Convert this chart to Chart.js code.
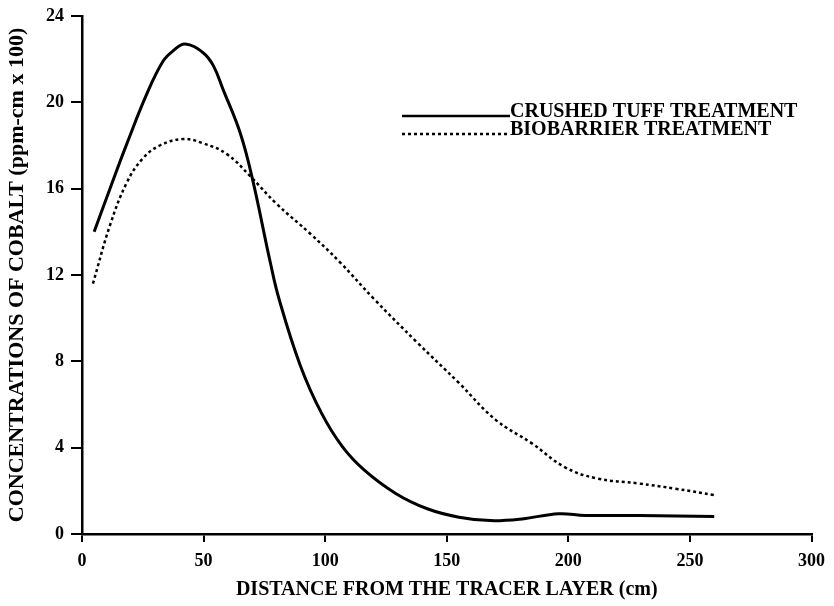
<!DOCTYPE html>
<html>
<head>
<meta charset="utf-8">
<script src="https://cdn.jsdelivr.net/npm/chart.js@4.4.1/dist/chart.umd.min.js"></script>
<style>
  html, body { margin: 0; padding: 0; background: #fff; }
  #wrap { width: 834px; height: 606px; }
</style>
</head>
<body>
<div id="wrap"><canvas id="cobaltChart" width="834" height="606"></canvas></div>
<script>
// Distance (cm) and concentration (ppm-cm x 100)
const tuffX = [5, 11.5, 18.5, 26.7, 33.3, 37.6, 42.4, 49.8, 54, 58, 65, 70, 77.4, 81, 89.8, 98.5, 107, 116, 129, 142, 155, 168, 181, 196, 207, 229, 260];
const tuffY = [14.0, 16.0, 18.1, 20.4, 21.9, 22.4, 22.7, 22.3, 21.7, 20.6, 18.6, 16.5, 12.6, 10.9, 7.8, 5.6, 4.06, 2.97, 1.88, 1.17, 0.78, 0.62, 0.7, 0.94, 0.86, 0.86, 0.81];

const bioX = [4.5, 11.5, 18.5, 25, 32, 41.5, 49.8, 59.6, 69, 80, 94, 106, 120, 137.6, 155, 170, 185, 198.5, 211.5, 229, 244, 260];
const bioY = [11.6, 14.3, 16.3, 17.4, 18.0, 18.3, 18.1, 17.6, 16.6, 15.3, 13.9, 12.6, 10.9, 8.9, 7.0, 5.3, 4.2, 3.1, 2.58, 2.34, 2.1, 1.8];

const legendLabels = ['CRUSHED TUFF TREATMENT', 'BIOBARRIER TREATMENT'];
const xTitle = 'DISTANCE FROM THE TRACER LAYER (cm)';
const yTitle = 'CONCENTRATIONS OF COBALT (ppm-cm x 100)';

const serif = "'Liberation Serif', 'DejaVu Serif', serif";

function pairs(xs, ys) {
    return xs.map((x, i) => ({ x: x, y: ys[i] }));
}

// legend drawn by hand so it sits inside the plot like the original
const handLegend = {
    id: 'handLegend',
    afterDraw(chart) {
        const ctx = chart.ctx;
        const rows = [
            { y: 112, dash: [] },
            { y: 130, dash: [3, 3] }
        ];
        ctx.save();
        ctx.fillStyle = '#000';
        ctx.strokeStyle = '#000';
        ctx.textBaseline = 'middle';
        ctx.font = 'bold 20px ' + serif;
        rows.forEach((r, i) => {
            ctx.lineWidth = 2.5;
            ctx.setLineDash(r.dash);
            ctx.beginPath();
            ctx.moveTo(402, r.y + 4);
            ctx.lineTo(510, r.y + 4);
            ctx.stroke();
            ctx.setLineDash([]);
            ctx.fillText(legendLabels[i], 510, r.y);
        });
        ctx.restore();
    }
};

const ctx = document.getElementById('cobaltChart').getContext('2d');
const cobaltChart = new Chart(ctx, {
    type: 'scatter',
    data: {
        datasets: [{
            label: legendLabels[0],
            data: pairs(tuffX, tuffY),
            showLine: true,
            borderColor: '#000',
            borderWidth: 3,
            pointRadius: 0,
            tension: 0.4
        }, {
            label: legendLabels[1],
            data: pairs(bioX, bioY),
            showLine: true,
            borderColor: '#000',
            borderWidth: 2.5,
            borderDash: [3, 3],
            pointRadius: 0,
            tension: 0.4
        }]
    },
    options: {
        responsive: false,
        animation: false,
        layout: { padding: { top: 0, right: 17, left: 0, bottom: 0 } },
        plugins: {
            legend: { display: false },
            tooltip: { enabled: false }
        },
        scales: {
            x: {
                type: 'linear',
                min: 0,
                max: 300,
                afterFit: s => { s.height = 72; },
                border: { color: '#000', width: 2.5 },
                grid: { drawOnChartArea: false, tickLength: 8, color: '#000', lineWidth: 2 },
                ticks: {
                    stepSize: 50,
                    color: '#000',
                    padding: 9,
                    font: { family: serif, size: 18, weight: 'bold' }
                },
                title: {
                    display: true,
                    text: xTitle,
                    color: '#000',
                    padding: { top: 0, bottom: 4 },
                    font: { family: serif, size: 20, weight: 'bold' }
                }
            },
            y: {
                min: 0,
                max: 24,
                afterFit: s => { s.width = 82; },
                border: { color: '#000', width: 2.5 },
                grid: { drawOnChartArea: false, tickLength: 11, color: '#000', lineWidth: 2 },
                ticks: {
                    stepSize: 4,
                    color: '#000',
                    padding: 7,
                    font: { family: serif, size: 18, weight: 'bold', lineHeight: 1 }
                },
                title: {
                    display: true,
                    text: yTitle,
                    color: '#000',
                    padding: { top: 4, bottom: 0 },
                    font: { family: serif, size: 22, weight: 'bold' }
                }
            }
        }
    },
    plugins: [handLegend]
});
</script>
</body>
</html>
